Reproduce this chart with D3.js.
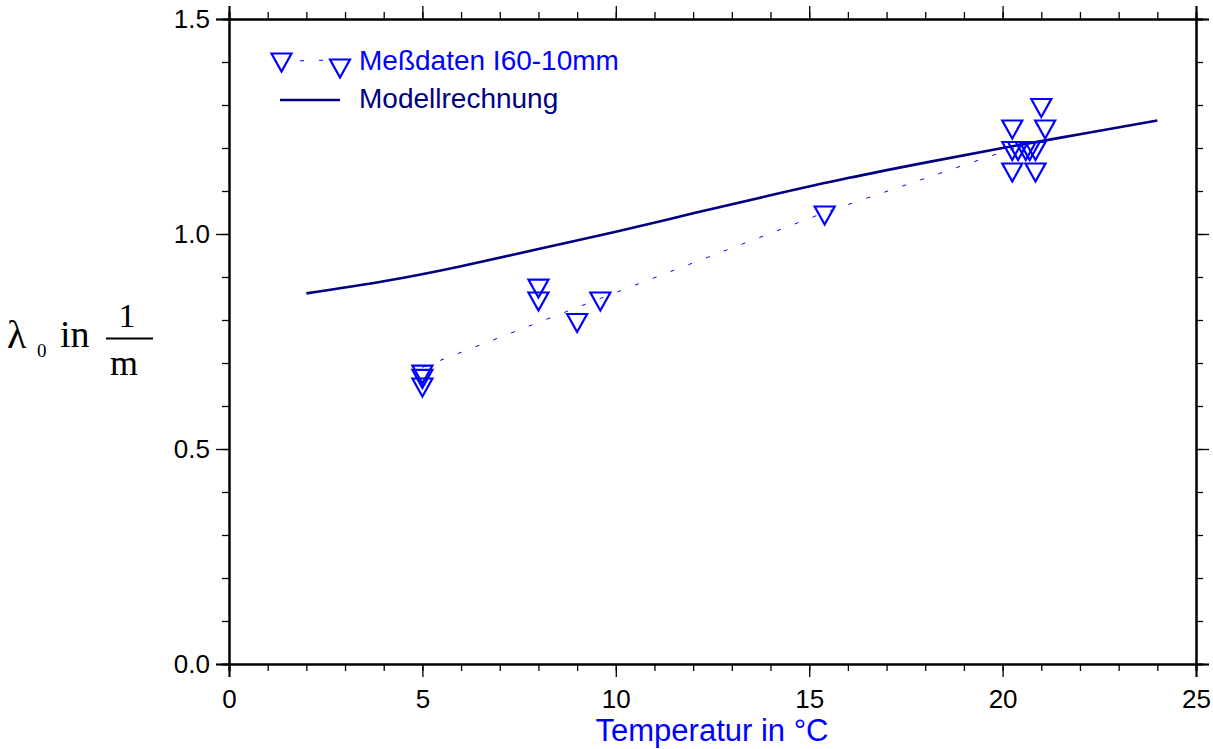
<!DOCTYPE html>
<html>
<head>
<meta charset="utf-8">
<script src="https://cdn.jsdelivr.net/npm/d3@7"></script>
<style>
  body { margin: 0; background: #fff; }
  svg { display: block; }
</style>
</head>
<body>
<script>
var w = 1213, h = 749;

// measured data (Meßdaten I60-10mm)
var messX = [5, 5, 5, 8, 8, 9, 9.6, 15.4, 20.25, 21.1, 21, 20.25, 20.4, 20.6, 20.7, 20.85, 20.25, 20.85];
var messY = [0.68, 0.67, 0.65, 0.88, 0.85, 0.80, 0.85, 1.05, 1.25, 1.25, 1.30, 1.20, 1.20, 1.20, 1.20, 1.20, 1.15, 1.15];

// dotted line through the measurements
var trendX = [5, 9.6, 15.4, 20.3];
var trendY = [0.69, 0.85, 1.05, 1.2];

// model curve (Modellrechnung)
var modelX = [2, 4, 6, 8, 10, 12, 14, 16, 18, 20, 22, 24];
var modelY = [0.862, 0.890, 0.925, 0.965, 1.005, 1.048, 1.090, 1.130, 1.166, 1.200, 1.232, 1.264];

var xTicks = [0, 5, 10, 15, 20, 25];
var yTicks = [0.0, 0.5, 1.0, 1.5];

var blue = "#0000ff", navy = "#000080";

var svg = d3.select("body")
    .append("svg")
    .attr("width", w)
    .attr("height", h);

var xScale = d3.scaleLinear()
        .domain([0, 25])
        .range([229, 1196]);

var yScale = d3.scaleLinear()
        .domain([0, 1.5])
        .range([664, 19]);

// axes: major + minor ticks on all four sides
function styleAxis(g) {
    g.select(".domain").attr("stroke", "#000").attr("stroke-width", 2);
    g.selectAll(".tick line").attr("stroke", "#000").attr("stroke-width", 1.3);
    g.selectAll(".tick text")
        .attr("fill", "#000")
        .style("font-family", "'Liberation Sans', Arial, sans-serif")
        .style("font-size", "26px");
}

var xMinor = d3.range(0, 26, 1);
var yMinor = d3.range(0, 15.5, 1).map(d => d / 10);

svg.append("g")
    .attr("transform", "translate(0,664)")
    .call(d3.axisBottom(xScale).tickValues(xMinor).tickSize(7).tickFormat(""))
    .call(styleAxis);
svg.append("g")
    .attr("transform", "translate(0,664)")
    .call(d3.axisBottom(xScale).tickValues(xTicks).tickSize(13).tickPadding(13).tickFormat(d3.format("d")))
    .call(styleAxis);

svg.append("g")
    .attr("transform", "translate(0,19)")
    .call(d3.axisTop(xScale).tickValues(xMinor).tickSize(7).tickFormat(""))
    .call(styleAxis);
svg.append("g")
    .attr("transform", "translate(0,19)")
    .call(d3.axisTop(xScale).tickValues(xTicks).tickSize(13).tickFormat(""))
    .call(styleAxis);

svg.append("g")
    .attr("transform", "translate(229,0)")
    .call(d3.axisLeft(yScale).tickValues(yMinor).tickSize(7).tickFormat(""))
    .call(styleAxis);
svg.append("g")
    .attr("transform", "translate(229,0)")
    .call(d3.axisLeft(yScale).tickValues(yTicks).tickSize(13).tickPadding(6).tickFormat(d3.format(".1f")))
    .call(styleAxis);

svg.append("g")
    .attr("transform", "translate(1196,0)")
    .call(d3.axisRight(yScale).tickValues(yMinor).tickSize(7).tickFormat(""))
    .call(styleAxis);
svg.append("g")
    .attr("transform", "translate(1196,0)")
    .call(d3.axisRight(yScale).tickValues(yTicks).tickSize(13).tickFormat(""))
    .call(styleAxis);

// model curve
var line = d3.line()
    .x(d => xScale(d[0]))
    .y(d => yScale(d[1]))
    .curve(d3.curveNatural);

svg.append("path")
    .datum(modelX.map((x, i) => [x, modelY[i]]))
    .attr("d", line)
    .attr("fill", "none")
    .attr("stroke", navy)
    .attr("stroke-width", 2.6);

// dotted trend
svg.append("path")
    .datum(trendX.map((x, i) => [x, trendY[i]]))
    .attr("d", d3.line().x(d => xScale(d[0])).y(d => yScale(d[1])))
    .attr("fill", "none")
    .attr("stroke", blue)
    .attr("stroke-width", 1)
    .attr("stroke-dasharray", "4,15");

// down triangle, centroid at (cx,cy)
function tri(cx, cy) {
    return "M" + (cx - 10) + "," + (cy - 6) + "L" + (cx + 10) + "," + (cy - 6) +
           "L" + cx + "," + (cy + 12) + "Z";
}

svg.selectAll(".pt")
    .data(messX.map((x, i) => [x, messY[i]]))
    .enter().append("path")
    .attr("class", "pt")
    .attr("d", d => tri(xScale(d[0]), yScale(d[1])))
    .attr("fill", "none")
    .attr("stroke", blue)
    .attr("stroke-width", 2.2);

// legend
var leg = svg.append("g");
leg.append("line")
    .attr("x1", 292).attr("y1", 61).attr("x2", 330).attr("y2", 60)
    .attr("stroke", blue).attr("stroke-width", 1)
    .attr("stroke-dasharray", "4,15").attr("stroke-dashoffset", -8);
leg.append("path").attr("d", tri(281.5, 59.5))
    .attr("fill", "none").attr("stroke", blue).attr("stroke-width", 2.2);
leg.append("path").attr("d", tri(340, 65.5))
    .attr("fill", "none").attr("stroke", blue).attr("stroke-width", 2.2);
leg.append("text")
    .attr("x", 359).attr("y", 70)
    .attr("fill", blue)
    .style("font-family", "'Liberation Sans', Arial, sans-serif")
    .style("font-size", "28px")
    .text("Meßdaten I60-10mm");
leg.append("line")
    .attr("x1", 280).attr("y1", 100).attr("x2", 340).attr("y2", 100)
    .attr("stroke", navy).attr("stroke-width", 2.6);
leg.append("text")
    .attr("x", 359).attr("y", 107.5)
    .attr("fill", navy)
    .style("font-family", "'Liberation Sans', Arial, sans-serif")
    .style("font-size", "28px")
    .text("Modellrechnung");

// x axis title
svg.append("text")
    .attr("x", 712).attr("y", 741)
    .attr("text-anchor", "middle")
    .attr("fill", blue)
    .style("font-family", "'Liberation Sans', Arial, sans-serif")
    .style("font-size", "31px")
    .text("Temperatur in °C");

// y axis title: λ0 in 1/m
var yl = svg.append("g")
    .attr("fill", "#000")
    .style("font-family", "'Liberation Serif', 'Times New Roman', serif");
yl.append("text").attr("x", 7).attr("y", 348).style("font-size", "40px").text("λ");
yl.append("text").attr("x", 37).attr("y", 357).style("font-size", "19px").text("0");
yl.append("text").attr("x", 60).attr("y", 347).style("font-size", "38px").text("in");
yl.append("text").attr("x", 127).attr("y", 327).attr("text-anchor", "middle").style("font-size", "34px").text("1");
yl.append("line").attr("x1", 106).attr("y1", 338.5).attr("x2", 153).attr("y2", 338.5)
    .attr("stroke", "#000").attr("stroke-width", 2);
yl.append("text").attr("x", 124).attr("y", 375).attr("text-anchor", "middle").style("font-size", "36px").text("m");
</script>
</body>
</html>
